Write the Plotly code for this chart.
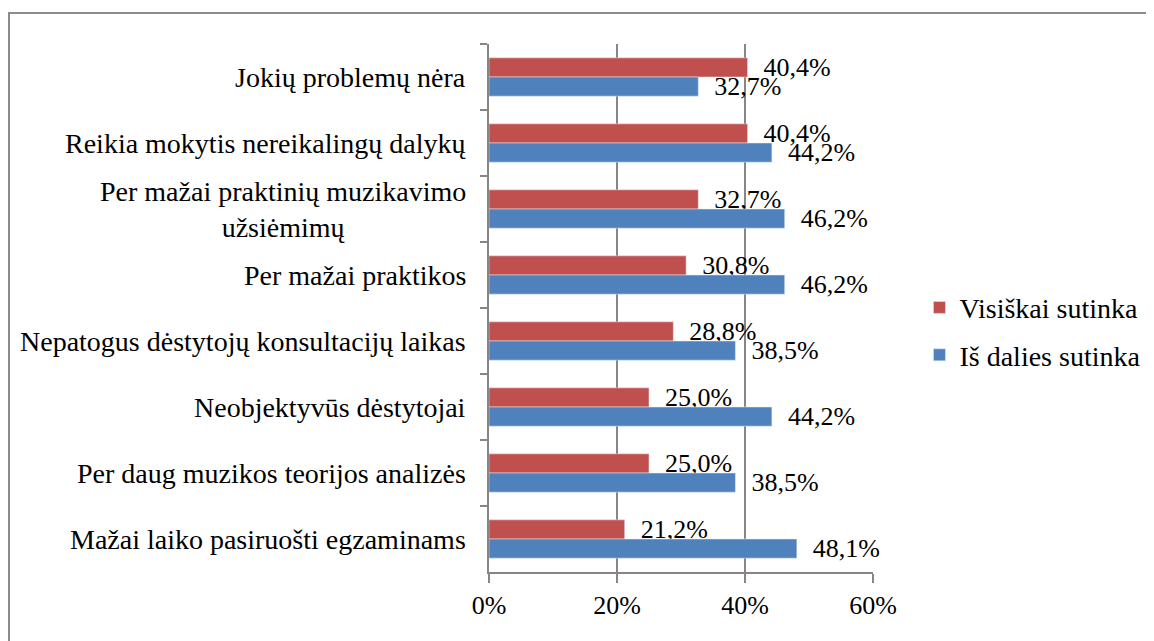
import plotly.graph_objects as go

CATEGORIES = [
    "Jokių problemų nėra",
    "Reikia mokytis nereikalingų dalykų",
    "Per mažai praktinių muzikavimo<br>užsiėmimų",
    "Per mažai praktikos",
    "Nepatogus dėstytojų konsultacijų laikas",
    "Neobjektyvūs dėstytojai",
    "Per daug muzikos teorijos analizės",
    "Mažai laiko pasiruošti egzaminams",
]
VISISKAI = [40.4, 40.4, 32.7, 30.8, 28.8, 25.0, 25.0, 21.2]
IS_DALIES = [32.7, 44.2, 46.2, 46.2, 38.5, 44.2, 38.5, 48.1]
X_TICKS = [0, 20, 40, 60]
X_TICKTEXT = [f"{v}%" for v in X_TICKS]

RED = "#C0504D"
BLUE = "#4F81BD"
GRID = "#868686"
FONT = "Times New Roman, Liberation Serif, serif"

fig = go.Figure()

fig.add_trace(go.Bar(y=CATEGORIES, x=VISISKAI, orientation="h", name="Visiškai sutinka",
                     marker=dict(color=RED), legendgroup="a",
                     texttemplate="\u00a0\u00a0%{x:.1f}%", textposition="outside",
                     constraintext="none", cliponaxis=False,
                     textfont=dict(family=FONT, size=26, color="black")))
fig.add_trace(go.Bar(y=CATEGORIES, x=IS_DALIES, orientation="h", name="Iš dalies sutinka",
                     marker=dict(color=BLUE), legendgroup="b",
                     texttemplate="\u00a0\u00a0%{x:.1f}%", textposition="outside",
                     constraintext="none", cliponaxis=False,
                     textfont=dict(family=FONT, size=26, color="black")))

# category labels as annotations so the wrapped one is centred like in Excel
for cat in CATEGORIES:
    fig.add_annotation(x=-0.0547, xref="paper", y=cat, yref="y", text=cat, showarrow=False,
                       xanchor="right", align="center",
                       font=dict(family=FONT, size=28, color="black"))

# outer chart border
fig.add_shape(type="rect", xref="paper", yref="paper", x0=-1.25, x1=2.0, y0=-0.5, y1=1.0587,
              line=dict(color="#8c8c8c", width=2), layer="below")

fig.update_layout(
    width=1154, height=641,
    margin=dict(l=481, r=289, t=36, b=77),
    paper_bgcolor="white", plot_bgcolor="white",
    barmode="group", bargap=0.42, bargroupgap=0,
    separators=", ",
    font=dict(family=FONT, size=26, color="black"),
    showlegend=True,
    legend=dict(x=1.121, y=0.456, xanchor="left", yanchor="middle",
                traceorder="grouped", tracegroupgap=8,
                font=dict(family=FONT, size=28, color="black")),
    xaxis=dict(range=[0, 60], tickvals=X_TICKS, ticktext=X_TICKTEXT,
               showgrid=True, gridcolor=GRID, gridwidth=1.5,
               showline=True, linecolor=GRID, linewidth=1.5,
               ticks="outside", ticklen=9, tickcolor=GRID, tickwidth=1.5,
               zeroline=False, tickfont=dict(family=FONT, size=26)),
    yaxis=dict(autorange="reversed", showticklabels=False,
               showline=True, linecolor=GRID, linewidth=1.5,
               ticks="outside", tickson="boundaries", ticklen=7, tickcolor=GRID, tickwidth=1.5,
               showgrid=False),
)

fig.write_html("out.html")
